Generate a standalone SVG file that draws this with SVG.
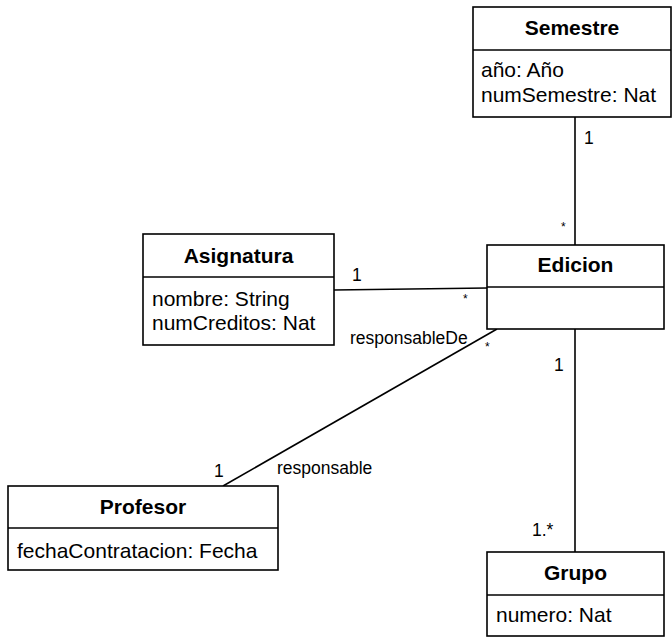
<svg xmlns="http://www.w3.org/2000/svg" width="672" height="637" viewBox="0 0 672 637">
<style>
.box{fill:#fff;stroke:#000;stroke-width:1.6}
.div{stroke:#000;stroke-width:1.6}
.title{font-family:"Liberation Sans",Arial,sans-serif;font-size:21px;font-weight:bold;text-anchor:middle;fill:#000}
.attr{font-family:"Liberation Sans",Arial,sans-serif;font-size:21px;fill:#000}
.lbl{font-family:"Liberation Sans",Arial,sans-serif;font-size:17.5px;fill:#000}
.star{font-family:"Liberation Sans",Arial,sans-serif;font-size:12px;fill:#000}
.conn{stroke:#000;stroke-width:1.6;fill:none}
</style>
<rect width="672" height="637" fill="#fff"/>
<g id="connectors">
<line class="conn" x1="575" y1="117" x2="575" y2="245"/>
<line class="conn" x1="334" y1="290" x2="487" y2="288"/>
<line class="conn" x1="497" y1="329" x2="223" y2="486"/>
<line class="conn" x1="575" y1="329" x2="575" y2="552"/>
<text class="lbl" x="584" y="144">1</text>
<text class="star" x="561" y="231">*</text>
<text class="lbl" x="352" y="281">1</text>
<text class="star" x="463" y="303">*</text>
<text class="lbl" x="350" y="344">responsableDe</text>
<text class="star" x="485" y="351">*</text>
<text class="lbl" x="277" y="474">responsable</text>
<text class="lbl" x="214" y="477">1</text>
<text class="lbl" x="554" y="371">1</text>
<text class="lbl" x="532" y="536">1.*</text>
</g>
<g id="Semestre">
<rect class="box" x="473" y="7" width="198" height="110"/>
<line class="div" x1="473" y1="50" x2="671" y2="50"/>
<text class="title" x="572" y="35">Semestre</text>
<text class="attr" x="481" y="77">año: Año</text>
<text class="attr" x="481" y="102">numSemestre: Nat</text>
</g>
<g id="Asignatura">
<rect class="box" x="143" y="234" width="191" height="111"/>
<line class="div" x1="143" y1="277" x2="334" y2="277"/>
<text class="title" x="238.5" y="263">Asignatura</text>
<text class="attr" x="152" y="306">nombre: String</text>
<text class="attr" x="152" y="330">numCreditos: Nat</text>
</g>
<g id="Edicion">
<rect class="box" x="487" y="245" width="177" height="84"/>
<line class="div" x1="487" y1="287" x2="664" y2="287"/>
<text class="title" x="575.5" y="272">Edicion</text>
</g>
<g id="Profesor">
<rect class="box" x="8" y="486" width="270" height="84"/>
<line class="div" x1="8" y1="528" x2="278" y2="528"/>
<text class="title" x="143" y="514">Profesor</text>
<text class="attr" x="17" y="558">fechaContratacion: Fecha</text>
</g>
<g id="Grupo">
<rect class="box" x="487" y="552" width="177" height="84"/>
<line class="div" x1="487" y1="595" x2="664" y2="595"/>
<text class="title" x="575.5" y="580">Grupo</text>
<text class="attr" x="496" y="622">numero: Nat</text>
</g>
</svg>
